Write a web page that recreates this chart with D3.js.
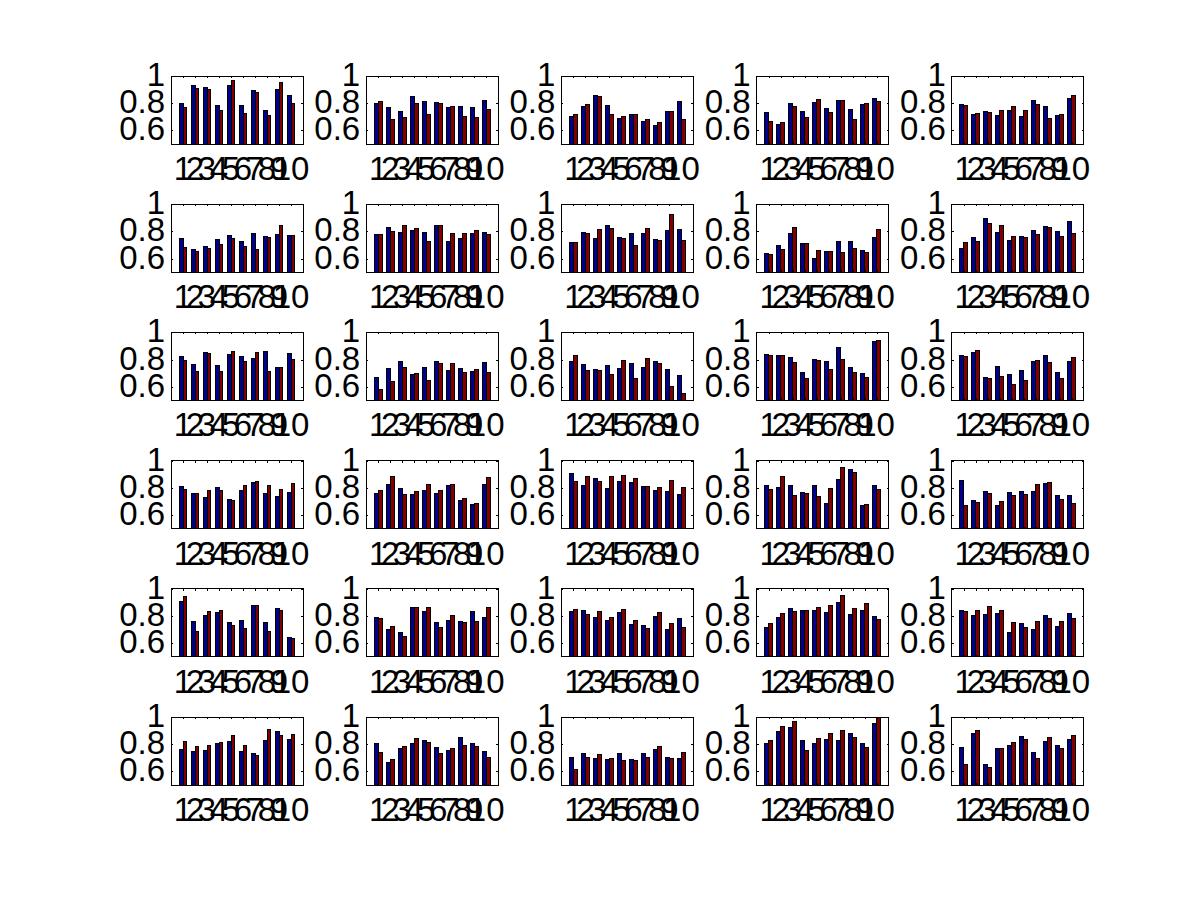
<!DOCTYPE html>
<html>
<head>
<meta charset="utf-8">
<script src="https://cdn.jsdelivr.net/npm/d3@7"></script>
<style>
  html, body { margin: 0; padding: 0; background: #ffffff; }
  svg { display: block; }
  text { font-family: "Liberation Sans", Arial, Helvetica, sans-serif; }
</style>
</head>
<body>
<svg id="chart" width="1200" height="900"></svg>
<script>
// ---------------- data ----------------
const categories = [1, 2, 3, 4, 5, 6, 7, 8, 9, 10];
const xTickLabels = ["1", "2", "3", "4", "5", "6", "7", "8", "9", "10"];
const yTickValues = [0.6, 0.8, 1];
const yTickLabels = ["0.6", "0.8", "1"];
const yDomain = [0.5, 1];
const xDomain = [0, 11];

// series 1 (blue), one row per subplot (row-major, 6 rows x 5 cols)
const seriesBlue = [
  [0.798, 0.933, 0.912, 0.783, 0.933, 0.783, 0.893, 0.750, 0.900, 0.855],
  [0.798, 0.770, 0.740, 0.848, 0.812, 0.805, 0.770, 0.776, 0.770, 0.819],
  [0.705, 0.776, 0.855, 0.783, 0.690, 0.720, 0.662, 0.633, 0.740, 0.810],
  [0.733, 0.640, 0.798, 0.740, 0.805, 0.762, 0.819, 0.755, 0.790, 0.833],
  [0.790, 0.720, 0.740, 0.712, 0.748, 0.705, 0.819, 0.776, 0.712, 0.833],
  [0.745, 0.667, 0.688, 0.738, 0.767, 0.724, 0.788, 0.760, 0.774, 0.767],
  [0.774, 0.831, 0.795, 0.810, 0.795, 0.845, 0.724, 0.745, 0.788, 0.795],
  [0.717, 0.795, 0.745, 0.845, 0.752, 0.788, 0.788, 0.738, 0.810, 0.817],
  [0.638, 0.695, 0.788, 0.710, 0.602, 0.652, 0.724, 0.724, 0.660, 0.752],
  [0.674, 0.752, 0.895, 0.795, 0.731, 0.760, 0.810, 0.838, 0.802, 0.874],
  [0.821, 0.764, 0.850, 0.757, 0.836, 0.821, 0.807, 0.857, 0.743, 0.843],
  [0.671, 0.736, 0.786, 0.693, 0.743, 0.786, 0.721, 0.736, 0.714, 0.779],
  [0.786, 0.764, 0.729, 0.757, 0.736, 0.771, 0.743, 0.786, 0.729, 0.686],
  [0.836, 0.829, 0.814, 0.707, 0.800, 0.786, 0.886, 0.743, 0.700, 0.936],
  [0.829, 0.850, 0.671, 0.750, 0.693, 0.721, 0.786, 0.829, 0.707, 0.786],
  [0.810, 0.760, 0.731, 0.802, 0.717, 0.781, 0.838, 0.760, 0.738, 0.767],
  [0.760, 0.824, 0.795, 0.752, 0.781, 0.760, 0.817, 0.710, 0.674, 0.824],
  [0.902, 0.817, 0.867, 0.795, 0.845, 0.838, 0.810, 0.781, 0.774, 0.752],
  [0.817, 0.802, 0.817, 0.767, 0.817, 0.688, 0.860, 0.931, 0.667, 0.817],
  [0.852, 0.710, 0.774, 0.667, 0.767, 0.774, 0.774, 0.831, 0.745, 0.745],
  [0.905, 0.762, 0.805, 0.826, 0.755, 0.769, 0.876, 0.755, 0.855, 0.640],
  [0.790, 0.698, 0.676, 0.862, 0.833, 0.755, 0.769, 0.762, 0.833, 0.790],
  [0.833, 0.840, 0.790, 0.769, 0.826, 0.740, 0.733, 0.798, 0.698, 0.783],
  [0.719, 0.790, 0.855, 0.840, 0.840, 0.826, 0.898, 0.812, 0.840, 0.798],
  [0.840, 0.805, 0.812, 0.819, 0.676, 0.748, 0.698, 0.805, 0.726, 0.819],
  [0.760, 0.745, 0.752, 0.802, 0.817, 0.745, 0.731, 0.824, 0.895, 0.831],
  [0.802, 0.667, 0.767, 0.802, 0.824, 0.774, 0.752, 0.852, 0.802, 0.745],
  [0.702, 0.731, 0.695, 0.688, 0.731, 0.688, 0.731, 0.760, 0.702, 0.695],
  [0.802, 0.895, 0.924, 0.824, 0.802, 0.838, 0.824, 0.881, 0.802, 0.952],
  [0.774, 0.881, 0.652, 0.767, 0.788, 0.860, 0.738, 0.817, 0.788, 0.831]
];

// series 2 (dark red)
const seriesRed = [
  [0.770, 0.907, 0.900, 0.748, 0.969, 0.726, 0.876, 0.712, 0.955, 0.798],
  [0.812, 0.683, 0.698, 0.798, 0.719, 0.798, 0.774, 0.705, 0.698, 0.755],
  [0.720, 0.790, 0.848, 0.720, 0.705, 0.720, 0.683, 0.655, 0.740, 0.683],
  [0.662, 0.655, 0.776, 0.698, 0.826, 0.733, 0.819, 0.683, 0.798, 0.812],
  [0.783, 0.726, 0.733, 0.748, 0.776, 0.748, 0.790, 0.690, 0.720, 0.855],
  [0.681, 0.652, 0.674, 0.702, 0.745, 0.688, 0.667, 0.752, 0.845, 0.767],
  [0.774, 0.802, 0.845, 0.824, 0.724, 0.845, 0.781, 0.788, 0.810, 0.774],
  [0.717, 0.781, 0.817, 0.824, 0.745, 0.695, 0.824, 0.731, 0.924, 0.731],
  [0.631, 0.667, 0.831, 0.710, 0.660, 0.652, 0.645, 0.674, 0.645, 0.817],
  [0.717, 0.724, 0.860, 0.845, 0.760, 0.752, 0.774, 0.831, 0.760, 0.781],
  [0.793, 0.714, 0.843, 0.714, 0.857, 0.786, 0.850, 0.714, 0.743, 0.800],
  [0.579, 0.636, 0.743, 0.700, 0.650, 0.771, 0.771, 0.707, 0.729, 0.707],
  [0.829, 0.721, 0.721, 0.693, 0.793, 0.664, 0.807, 0.771, 0.600, 0.550],
  [0.829, 0.829, 0.779, 0.664, 0.793, 0.729, 0.800, 0.707, 0.671, 0.943],
  [0.821, 0.864, 0.664, 0.679, 0.614, 0.643, 0.793, 0.779, 0.664, 0.814],
  [0.788, 0.760, 0.781, 0.781, 0.710, 0.817, 0.845, 0.817, 0.788, 0.831],
  [0.781, 0.881, 0.752, 0.774, 0.824, 0.781, 0.824, 0.724, 0.688, 0.874],
  [0.845, 0.881, 0.845, 0.881, 0.888, 0.867, 0.810, 0.802, 0.852, 0.802],
  [0.788, 0.881, 0.745, 0.760, 0.738, 0.795, 0.952, 0.910, 0.674, 0.788],
  [0.667, 0.695, 0.760, 0.702, 0.745, 0.752, 0.824, 0.838, 0.717, 0.681],
  [0.940, 0.683, 0.833, 0.840, 0.733, 0.705, 0.876, 0.683, 0.840, 0.633],
  [0.783, 0.726, 0.648, 0.862, 0.862, 0.712, 0.805, 0.755, 0.762, 0.862],
  [0.848, 0.812, 0.833, 0.790, 0.848, 0.769, 0.705, 0.826, 0.748, 0.719],
  [0.748, 0.819, 0.833, 0.840, 0.862, 0.876, 0.948, 0.855, 0.890, 0.776],
  [0.833, 0.840, 0.869, 0.840, 0.755, 0.719, 0.762, 0.783, 0.762, 0.783],
  [0.817, 0.781, 0.788, 0.810, 0.867, 0.788, 0.717, 0.910, 0.867, 0.874],
  [0.738, 0.688, 0.781, 0.845, 0.810, 0.731, 0.767, 0.788, 0.781, 0.702],
  [0.617, 0.702, 0.724, 0.695, 0.681, 0.681, 0.702, 0.781, 0.695, 0.738],
  [0.824, 0.931, 0.967, 0.752, 0.845, 0.881, 0.902, 0.852, 0.774, 0.995],
  [0.652, 0.902, 0.631, 0.767, 0.810, 0.831, 0.695, 0.852, 0.767, 0.867]
];

const seriesColors = ["#00008f", "#800000"];

// ---------------- layout ----------------
const nRows = 6, nCols = 5;
const axLeft0 = 171, axColStep = 195.2, axWidth = 132;
const axTop0 = 76, axRowStep = 128.2, axHeight = 68;
const barW = 0.32;       // in data units, each series bar
const tickLen = 2;
const fontSize = 33;

const svg = d3.select("#chart");
svg.append("rect").attr("width", 1200).attr("height", 900).attr("fill", "#ffffff");

for (let r = 0; r < nRows; r++) {
  for (let c = 0; c < nCols; c++) {
    const k = r * nCols + c;
    const left = axLeft0 + c * axColStep;
    const top = axTop0 + r * axRowStep;
    const x = d3.scaleLinear().domain(xDomain).range([left, left + axWidth]);
    const y = d3.scaleLinear().domain(yDomain).range([top + axHeight, top]);

    const g = svg.append("g");
    const clipId = "clip" + k;
    g.append("clipPath").attr("id", clipId)
      .append("rect").attr("x", left).attr("y", top).attr("width", axWidth).attr("height", axHeight);

    // axes background
    g.append("rect").attr("x", left).attr("y", top).attr("width", axWidth).attr("height", axHeight)
      .attr("fill", "#ffffff");

    const bars = g.append("g").attr("clip-path", `url(#${clipId})`);
    const series = [seriesBlue[k], seriesRed[k]];
    series.forEach((vals, s) => {
      bars.selectAll(null)
        .data(categories.map((cat, i) => ({ cat, v: vals[i] })))
        .enter().append("rect")
        .attr("x", d => x(d.cat + (s === 0 ? -barW : 0)))
        .attr("width", d => x(d.cat + barW) - x(d.cat))
        .attr("y", d => y(d.v))
        .attr("height", d => y(yDomain[0]) - y(d.v))
        .attr("fill", seriesColors[s])
        .attr("stroke", "#000")
        .attr("stroke-width", 1)
        .attr("shape-rendering", "crispEdges");
    });

    // ticks via d3 axes (inward)
    const xAxisTop = d3.axisBottom(x).tickValues(categories).tickSize(tickLen).tickFormat("");
    const xAxisBot = d3.axisTop(x).tickValues(categories).tickSize(tickLen).tickFormat("");
    const yAxisL = d3.axisRight(y).tickValues(yTickValues).tickSize(tickLen).tickFormat("");
    const yAxisR = d3.axisLeft(y).tickValues(yTickValues).tickSize(tickLen).tickFormat("");
    [
      [xAxisTop, `translate(0,${top})`],
      [xAxisBot, `translate(0,${top + axHeight})`],
      [yAxisL, `translate(${left},0)`],
      [yAxisR, `translate(${left + axWidth},0)`]
    ].forEach(([ax, tr]) => {
      const a = g.append("g").attr("transform", tr).call(ax);
      a.select(".domain").remove();
      a.selectAll("line").attr("stroke", "#000").attr("shape-rendering", "crispEdges");
    });

    // box
    g.append("rect").attr("x", left).attr("y", top).attr("width", axWidth).attr("height", axHeight)
      .attr("fill", "none").attr("stroke", "#000").attr("stroke-width", 1)
      .attr("shape-rendering", "crispEdges");

    // x tick labels
    g.append("g").selectAll("text")
      .data(categories)
      .enter().append("text")
      .attr("x", d => x(d))
      .attr("y", top + axHeight + 36)
      .attr("text-anchor", "middle")
      .attr("font-size", fontSize)
      .attr("fill", "#000")
      .text((d, i) => xTickLabels[i]);

    // y tick labels
    g.append("g").selectAll("text")
      .data(yTickValues)
      .enter().append("text")
      .attr("x", left - 6)
      .attr("y", d => y(d) + 10)
      .attr("text-anchor", "end")
      .attr("font-size", fontSize)
      .attr("fill", "#000")
      .text((d, i) => yTickLabels[i]);
  }
}
</script>
</body>
</html>
